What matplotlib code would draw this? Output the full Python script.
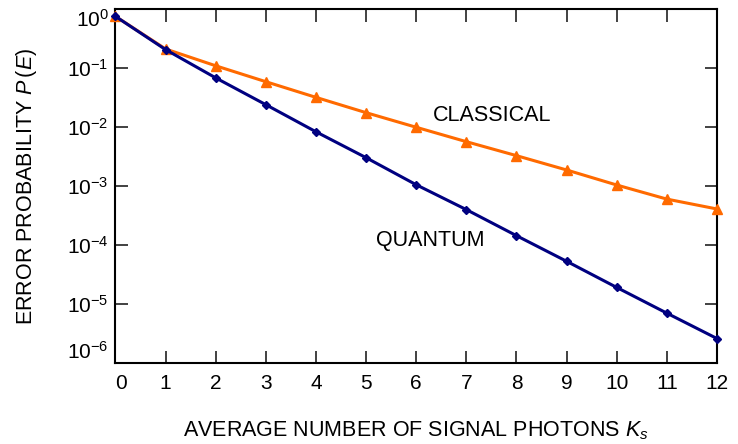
import matplotlib
matplotlib.use("Agg")
import matplotlib.pyplot as plt

# 数据
photons = [0, 1, 2, 3, 4, 5, 6, 7, 8, 9, 10, 11, 12]
p_quantum = [0.75, 0.205, 0.068, 0.0239, 0.0083, 0.00302, 0.00105,
             3.98e-4, 1.44e-4, 5.3e-5, 1.91e-5, 7.0e-6, 2.6e-6]
p_classical = [0.75, 0.21, 0.109, 0.0586, 0.0318, 0.0175, 0.0099,
               0.00564, 0.00327, 0.00187, 0.00104, 6.0e-4, 4.08e-4]
x_ticks = list(range(0, 13))
y_ticks = [1e0, 1e-1, 1e-2, 1e-3, 1e-4, 1e-5, 1e-6]

plt.rcParams["font.family"] = ["Liberation Sans", "DejaVu Sans"]
plt.rcParams["mathtext.fontset"] = "custom"
plt.rcParams["mathtext.rm"] = "Liberation Sans"
plt.rcParams["mathtext.it"] = "Liberation Sans:italic"

fig = plt.figure(figsize=(7.38, 4.44), dpi=100)
ax = fig.add_axes([0.1565, 0.1824, 0.815, 0.7973])

ax.plot(photons, p_classical, color="#ff6a00", lw=2.2, marker="^",
        markersize=7.5, clip_on=False, zorder=3)
ax.plot(photons, p_quantum, color="#000080", lw=2.2, marker="D",
        markersize=4.5, clip_on=False, zorder=4)

ax.set_yscale("log")
ax.set_xlim(0, 12)
ax.set_ylim(1e-6, 1e0)
ax.set_xticks(x_ticks)
ax.set_yticks(y_ticks)
ax.minorticks_off()
ax.tick_params(direction="in", length=9, width=1.3, color="#333333",
               labelsize=15, top=True, right=True, pad=8)
ax.tick_params(axis="y", pad=5)
for s in ax.spines.values():
    s.set_linewidth(1.5)

# 两端刻度标签往里收
for lab in ax.get_yticklabels():
    if lab.get_position()[1] >= 1.0:
        lab.set_va("top")
    elif lab.get_position()[1] <= 1e-6:
        lab.set_va("bottom")
ax.get_xticklabels()[0].set_ha("left")

ax.text(6.34, 0.0155, "CLASSICAL", fontsize=15.5, va="center")
ax.text(5.2, 1.2e-4, "QUANTUM", fontsize=15.5, va="center")

ax.set_xlabel("AVERAGE NUMBER OF SIGNAL PHOTONS $K_s$", fontsize=15.5, labelpad=19)
ax.set_ylabel("ERROR PROBABILITY $P\\,(E)$", fontsize=15.5, labelpad=20)

fig.savefig("out.png", dpi=100)
